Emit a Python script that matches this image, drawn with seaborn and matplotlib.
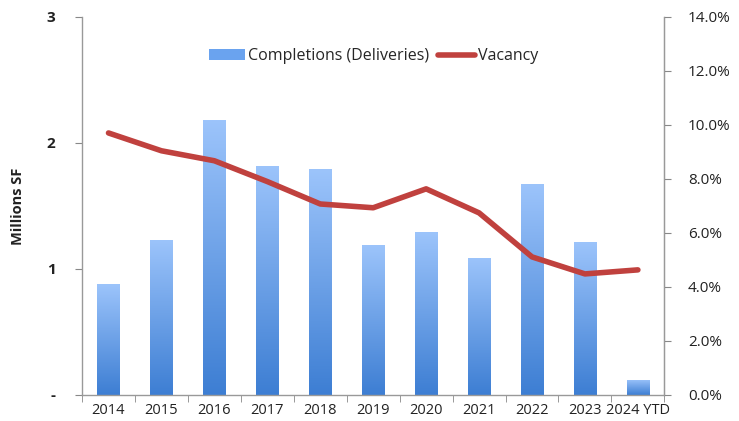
import numpy as np
import pandas as pd
import seaborn as sns
import matplotlib.pyplot as plt
from matplotlib.colors import LinearSegmentedColormap
from matplotlib.lines import Line2D
from matplotlib.patches import Patch
from matplotlib.ticker import FixedLocator, FuncFormatter

years = ['2014', '2015', '2016', '2017', '2018', '2019', '2020', '2021', '2022', '2023', '2024 YTD']
completions = [0.88, 1.23, 2.18, 1.82, 1.79, 1.19, 1.29, 1.09, 1.67, 1.21, 0.12]
vacancy = [9.7, 9.04, 8.67, 7.9, 7.07, 6.93, 7.63, 6.74, 5.11, 4.48, 4.63]

df = pd.DataFrame({'year': years, 'completions': completions, 'vacancy': vacancy})

sns.set_style('white')
plt.rcParams['font.family'] = ['Open Sans', 'DejaVu Sans']

fig = plt.figure(figsize=(7.39, 4.21), dpi=100)
ax = fig.add_axes([0.111, 0.062, 0.788, 0.898])

sns.barplot(data=df, x='year', y='completions', color='#5b9be8', width=0.42, ax=ax)

# gradient fill for bars: light at top, darker at bottom
cmap = LinearSegmentedColormap.from_list('bar', ['#3d7ed3', '#9cc4fb'])
grad = np.linspace(0, 1, 256).reshape(-1, 1)
for p in ax.patches:
    x0, y0 = p.get_x(), p.get_y()
    w, h = p.get_width(), p.get_height()
    p.set_facecolor('none')
    p.set_edgecolor('none')
    im = ax.imshow(grad, cmap=cmap, aspect='auto', origin='lower',
                   extent=[x0, x0 + w, y0, y0 + h], zorder=2)
    im.set_clip_path(p)

ax.set_xlim(-0.5, len(years) - 0.5)
ax.set_ylim(0, 3)
ax.set_yticks([0, 1, 2, 3])
ax.yaxis.set_major_formatter(FuncFormatter(lambda v, pos: '-' if v == 0 else f'{v:.0f}'))
ax.set_ylabel('Millions SF', fontsize=10.5, fontweight='bold', color='#222222', labelpad=16)
ax.set_xlabel('')
ax.tick_params(axis='y', which='major', length=5, color='#888888', labelsize=11, labelcolor='#222222',
               direction='out', left=True, pad=14)
for lbl in ax.get_yticklabels():
    lbl.set_fontweight('bold')
ax.tick_params(axis='x', which='major', length=0, labelsize=10.5, labelcolor='#222222', pad=6)
ax.xaxis.set_minor_locator(FixedLocator(np.arange(-0.5, len(years), 1)))
ax.tick_params(axis='x', which='minor', length=5, color='#888888', direction='out', bottom=True)

for side in ['left', 'bottom', 'right']:
    ax.spines[side].set_color('#999999')
    ax.spines[side].set_linewidth(1)
ax.spines['top'].set_visible(False)

ax2 = ax.twinx()
sns.lineplot(data=df, x='year', y='vacancy', color='#c0413e', linewidth=4, ax=ax2, sort=False)
ax2.set_ylim(0, 14)
ax2.set_yticks(np.arange(0, 15, 2))
ax2.yaxis.set_major_formatter(FuncFormatter(lambda v, pos: f'{v:.1f}%'))
ax2.set_ylabel('')
ax2.tick_params(axis='y', length=5, color='#888888', labelsize=11, labelcolor='#222222',
                direction='out', right=True, pad=12)
for side in ['left', 'bottom', 'top']:
    ax2.spines[side].set_visible(False)
ax2.spines['right'].set_color('#999999')

handles = [Patch(facecolor='#6aa3ef', edgecolor='none'),
           Line2D([0], [0], color='#c0413e', linewidth=4)]
ax.legend(handles, ['Completions (Deliveries)', 'Vacancy'], loc='upper center',
          bbox_to_anchor=(0.5, 0.955), ncol=2, frameon=False, fontsize=11.5,
          handlelength=2.3, handletextpad=0.15, columnspacing=0.6)

fig.savefig('out.png', dpi=100)
